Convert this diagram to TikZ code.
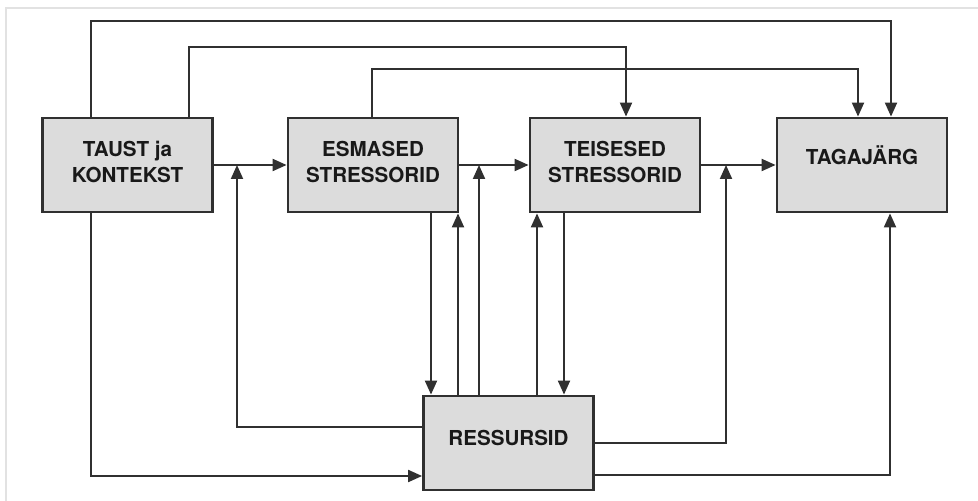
\documentclass[tikz,border=0pt]{standalone}
\usepackage{fontspec}
\setmainfont{TeX Gyre Heros}
\usetikzlibrary{arrows.meta}
\definecolor{boxgray}{HTML}{DCDCDC}
\definecolor{linegray}{HTML}{303030}
\definecolor{framegray}{HTML}{E2E2E2}

\begin{document}
\begin{tikzpicture}[x=0.5pt, y=-0.5pt, >={Triangle[length=7pt,width=6pt]},
  box/.style={rectangle, draw=linegray, line width=1.4pt, fill=boxgray, minimum width=85pt, minimum height=47pt, inner sep=0pt},
  txt/.style={font=\fontsize{10.3}{13}\selectfont\bfseries, text=black!90, align=center},
  line/.style={draw=linegray, line width=1pt}]
\useasboundingbox (0,0) rectangle (978,501);
\draw [framegray, line width=1.2pt] (6,501) -- (6,8) -- (978,8);

\node (taust) at (127.5,165) [box, label={[txt, yshift=1.3pt]center:TAUST ja\\KONTEKST}] {};
\node (esm) at (373,165) [box, label={[txt, yshift=1.3pt]center:ESMASED\\STRESSORID}] {};
\node (teis) at (615,165) [box, label={[txt, yshift=1.5pt]center:TEISESED\\STRESSORID}] {};
\node (tag) at (862,165) [box, label={[txt, yshift=5pt]center:TAGAJÄRG}] {};
\node (ress) at (508.5,443) [box, label={[txt, yshift=2.5pt]center:RESSURSID}] {};

\coordinate (j1) at (237,165);
\coordinate (j2) at (479,165);
\coordinate (j3) at (726,165);

% top rails
\draw [line, ->] (taust.north -| 91,0) |- (891,21) -- (tag.north -| 891,0);
\draw [line, ->] (taust.north -| 189,0) |- (626,47) -- (teis.north -| 626,0);
\draw [line, ->] (esm.north -| 372,0) |- (858,69) -- (tag.north -| 858,0);

% main chain
\draw [line, ->] (taust) -- (esm);
\draw [line, ->] (esm) -- (teis);
\draw [line, ->] (teis) -- (tag);

% resources
\draw [line, ->] ([yshift=8pt]ress.west) -| (j1);
\draw [line, ->] (ress.north -| 479,0) -- (j2);
\draw [line, ->] (ress.north -| 458,0) -- (esm.south -| 458,0);
\draw [line, ->] (esm.south -| 431,0) -- (ress.north -| 431,0);
\draw [line, ->] (ress.north -| 537,0) -- (teis.south -| 537,0);
\draw [line, ->] (teis.south -| 564,0) -- (ress.north -| 564,0);
\draw [line, ->] (ress.east) -| (j3);
\draw [line, ->] ([yshift=-16pt]ress.east) -| (tag.south -| 890,0);
\draw [line, ->] (taust.south -| 91,0) |- ([yshift=-16.5pt]ress.west);
\end{tikzpicture}
\end{document}
